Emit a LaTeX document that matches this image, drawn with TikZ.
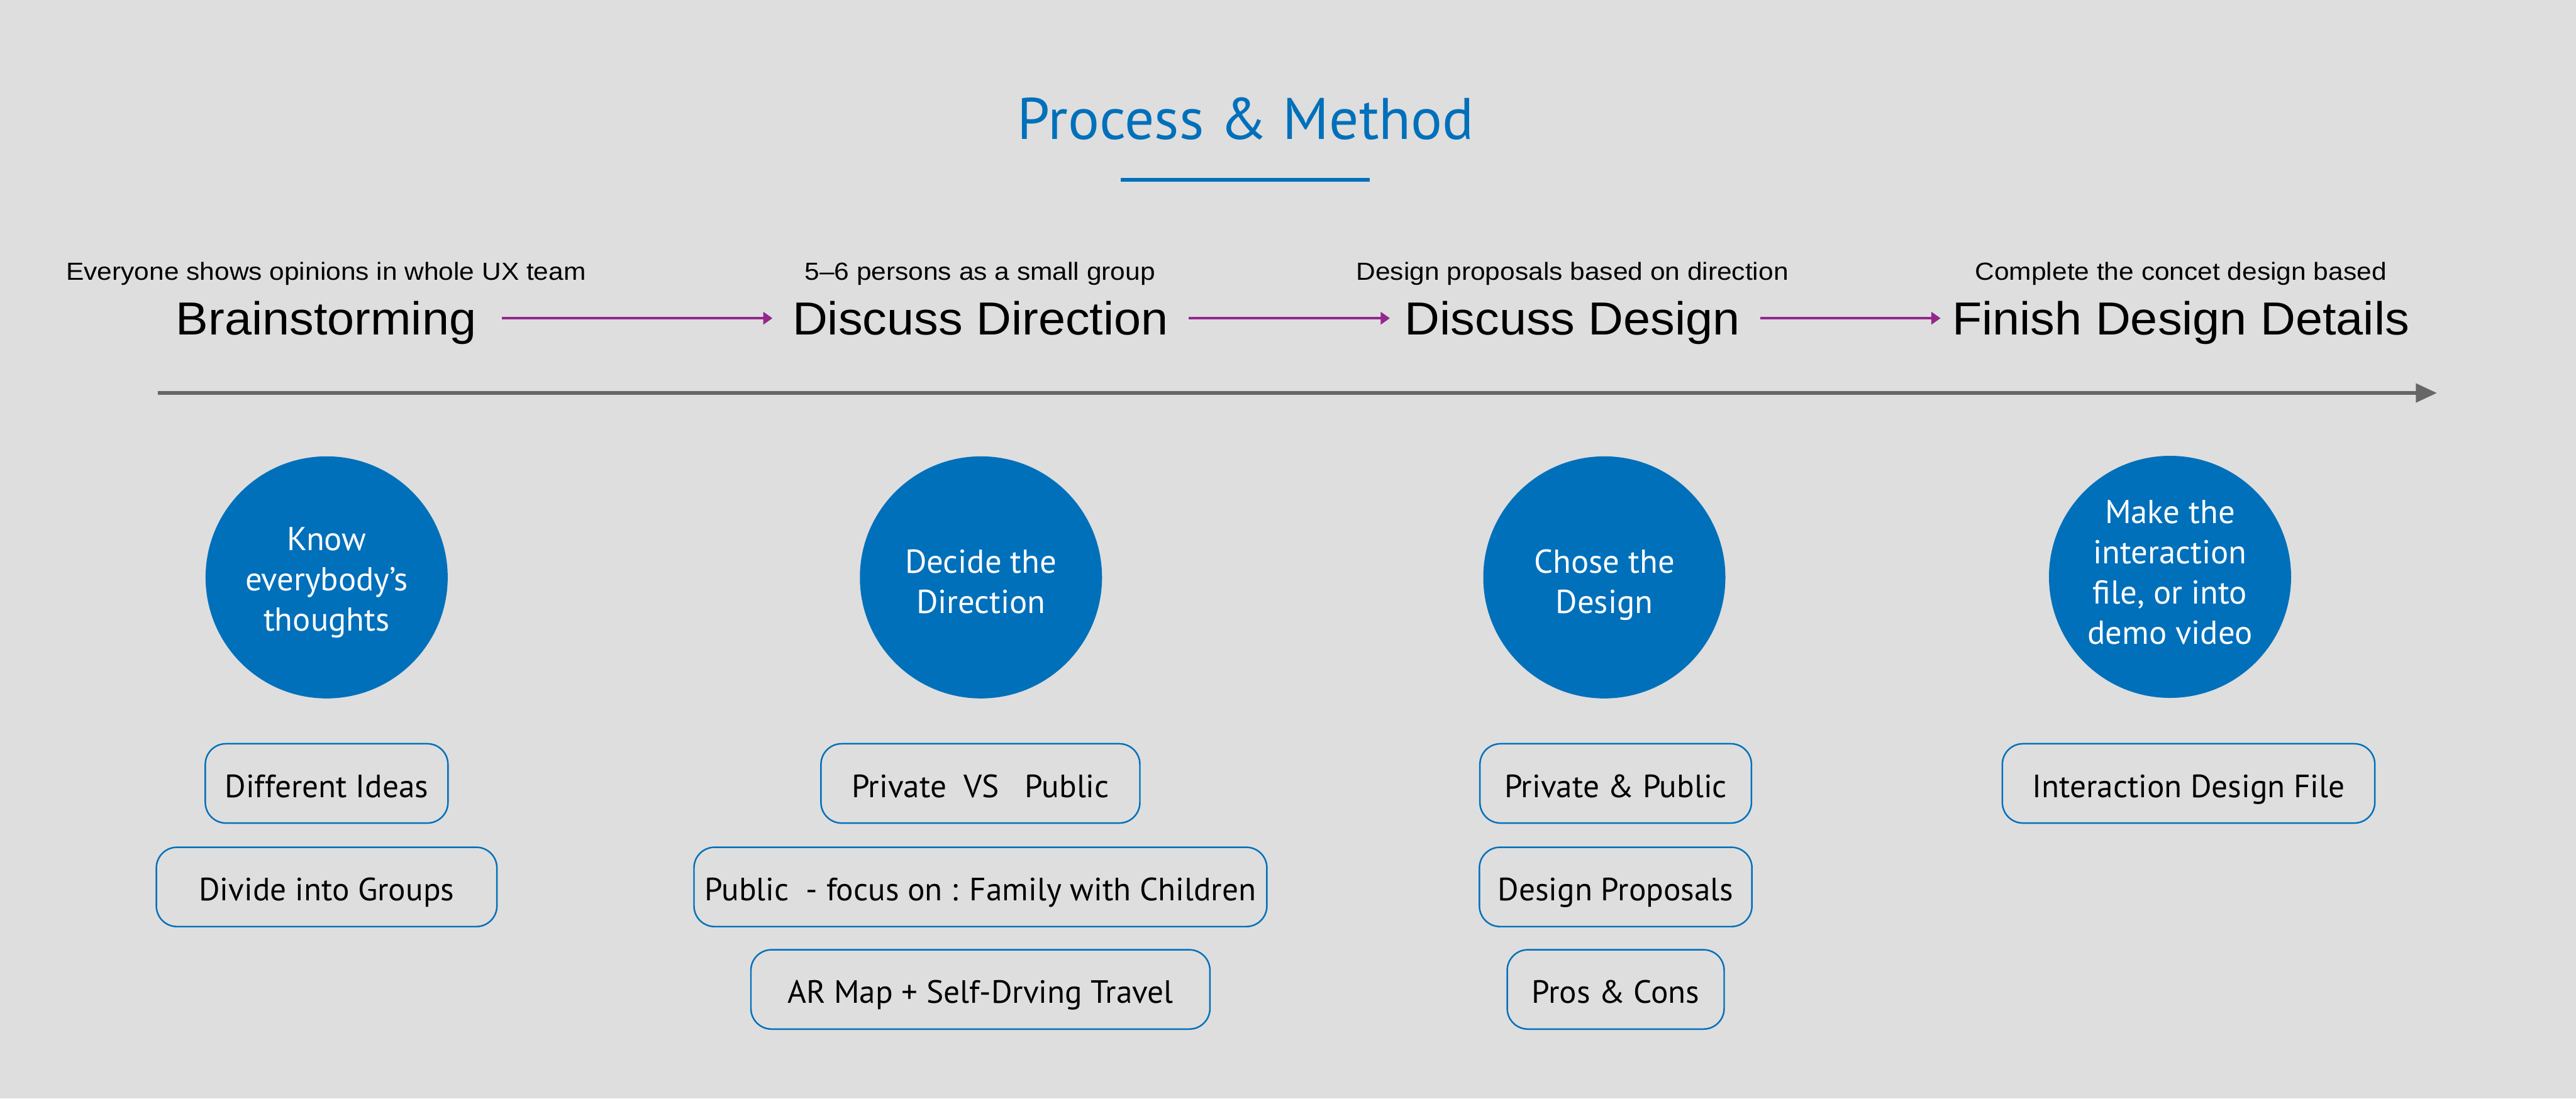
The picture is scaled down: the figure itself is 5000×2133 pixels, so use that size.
\documentclass[tikz,border=0pt]{standalone}
\usepackage{fontspec}
\setmainfont{PT Sans}
\newfontfamily\headfont[FakeStretch=1.05]{Liberation Sans}
\newfontfamily\subfont[FakeStretch=1.08]{Liberation Sans}
\usetikzlibrary{arrows.meta}
\definecolor{bg}{HTML}{DEDEDE}
\definecolor{mblue}{HTML}{0070BB}
\definecolor{mpurple}{HTML}{93278F}
\definecolor{mgray}{HTML}{666666}
\begin{document}
\begin{tikzpicture}[x=0.1mm,y=-0.1mm,
  titlestyle/.style={font=\fontsize{32.4}{38}\selectfont, text=mblue, inner sep=0, anchor=base},
  heading/.style={font=\headfont\fontsize{25.6}{30}\selectfont, inner sep=0, text height=18.3pt, text depth=0pt, anchor=base},
  subhead/.style={font=\subfont\fontsize{13.66}{16}\selectfont, inner sep=0, anchor=base},
  stepcircle/.style={circle, fill=mblue, minimum size=47mm, inner sep=0},
  circletext/.style={inner sep=0, text=white, align=center, font=\fontsize{18.3}{22.2}\selectfont},
  itembox/.style={draw=mblue, line width=0.3mm, rounded corners=4mm, minimum height=15.4mm, minimum width=#1, inner sep=0, text height=17pt, text depth=1.6pt, font=\fontsize{17.8}{22}\selectfont},
  purplearrow/.style={draw=mpurple, line width=0.43mm, -{Triangle[length=1.8mm,width=2.4mm]}},
]
\fill[bg] (0,0) rectangle (5000,2133);
\useasboundingbox (0,0) rectangle (5000,2133);

% title
\node[titlestyle] (title) at (2418,270) {Process \& Method};
\draw[mblue, line width=0.8mm] (2175,349) -- (2659,349);

% headings
\node[heading] (h1) at (633,650) {Brainstorming};
\node[heading] (h2) at (1903,650) {Discuss Direction};
\node[heading] (h3) at (3052,650) {Discuss Design};
\node[heading] (h4) at (4233,650) {Finish Design Details};

\node[subhead] (s1) at (633,544) {Everyone shows opinions in whole UX team};
\node[subhead] (s2) at (1902,544) {5–6 persons as a small group};
\node[subhead] (s3) at (3052,544) {Design proposals based on direction};
\node[subhead] (s4) at (4233,544) {Complete the concet design based};

\draw[purplearrow, shorten <=4.9mm, shorten >=3.8mm] (h1.east) -- (h2.west);
\draw[purplearrow, shorten <=3.9mm, shorten >=2.8mm] (h2.east) -- (h3.west);
\draw[purplearrow, shorten <=3.9mm, shorten >=2.2mm] (h3.east) -- (h4.west);

% timeline
\coordinate (tl0) at (306,763);
\coordinate (tl1) at (4730,763);
\draw[mgray, line width=0.7mm, -{Triangle[length=4.1mm,width=3.6mm]}] (tl0) -- (tl1);

% circles
\node[stepcircle] (c1) at (634,1121) {};
\node[stepcircle] (c2) at (1904,1121) {};
\node[stepcircle] (c3) at (3114,1121) {};
\node[stepcircle] (c4) at (4212,1120) {};
\node[circletext, yshift=-1mm] (c1t) at (c1) {Know\\everybody’s\\thoughts};
\node[circletext, yshift=-0.8mm] (c2t) at (c2) {Decide the\\Direction};
\node[circletext, yshift=-1.5mm] (c3t) at (c3) {Chose the\\Design};
\node[circletext, yshift=0.9mm] (c4t) at (c4) {Make the\\interaction\\file, or into\\demo video};

% boxes
\node[itembox=47.1mm] (b11) at (634,1521) {Different Ideas};
\node[itembox=66.1mm] (b12) at (634,1722) {Divide into Groups};

\node[itembox=61.9mm] (b21) at (1903,1521) {Private\ \ VS\ \ \ Public};
\node[itembox=111.2mm] (b22) at (1903,1722) {Public\ \ - focus on : Family with Children};
\node[itembox=89.1mm] (b23) at (1903,1921) {AR Map + Self-Drving Travel};

\node[itembox=52.7mm] (b31) at (3136,1521) {Private \& Public};
\node[itembox=52.9mm] (b32) at (3136,1722) {Design Proposals};
\node[itembox=42.1mm] (b33) at (3136,1921) {Pros \& Cons};

\node[itembox=72.3mm] (b41) at (4248,1521) {Interaction Design File};
\end{tikzpicture}
\end{document}
